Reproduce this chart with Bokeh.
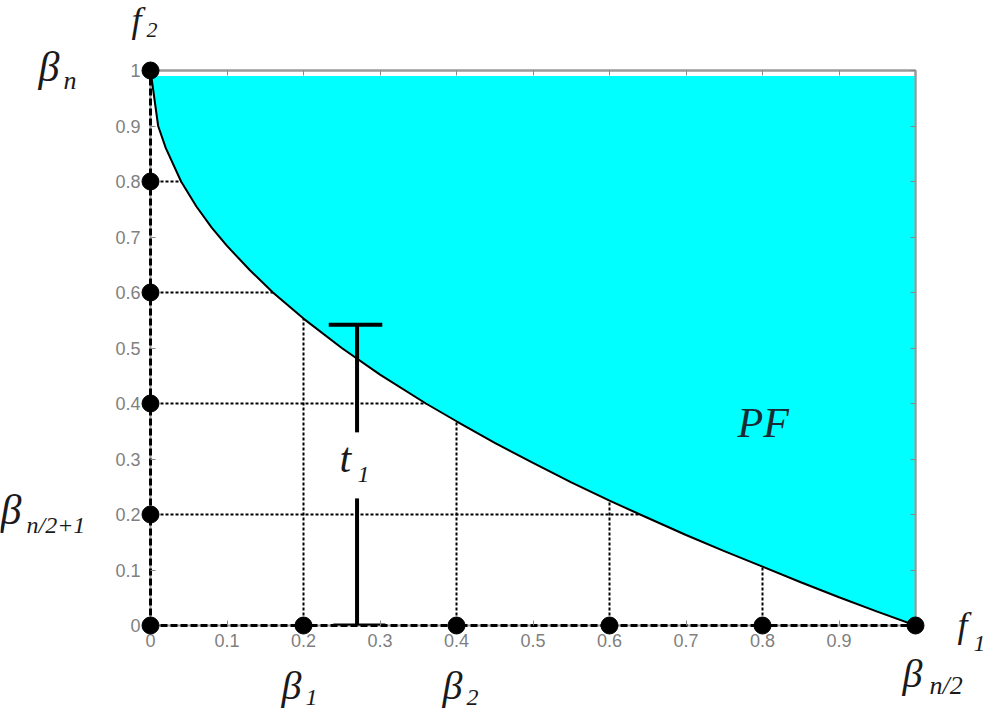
from bokeh.plotting import figure
from bokeh.models import Range1d, LinearAxis, FixedTicker, Label
from bokeh.layouts import column, row
from bokeh.embed import file_html
from bokeh.resources import INLINE

# ---- data ----
ticks = [0, 0.1, 0.2, 0.3, 0.4, 0.5, 0.6, 0.7, 0.8, 0.9, 1]
tick_labels = ["0", "0.1", "0.2", "0.3", "0.4", "0.5", "0.6", "0.7", "0.8", "0.9", "1"]

# Pareto front curve (f1, f2)
front_f1 = [0, 0.01, 0.02, 0.04, 0.06, 0.08, 0.1, 0.13, 0.16, 0.2, 0.25, 0.3, 0.36,
            0.4, 0.45, 0.5, 0.55, 0.6, 0.64, 0.7, 0.75, 0.8, 0.85, 0.9, 0.95, 1.0]
front_f2 = [1.0, 0.9, 0.86, 0.8, 0.755, 0.717, 0.684, 0.64, 0.6, 0.553, 0.5, 0.452, 0.4,
            0.368, 0.329, 0.293, 0.258, 0.225, 0.2, 0.163, 0.134, 0.106, 0.078, 0.051, 0.025, 0.0]
fill_top = 0.99

# dashed guide lines: horizontal (from f1=0 to front) and vertical (from f2=0 to front)
h_levels = [0.2, 0.4, 0.6, 0.8]
h_ends = [0.64, 0.36, 0.16, 0.04]
v_levels = [0.2, 0.4, 0.6, 0.8]
v_ends = [0.553, 0.368, 0.225, 0.106]

# black reference points
dot_x = [0, 0.2, 0.4, 0.6, 0.8, 1.0, 0, 0, 0, 0, 0]
dot_y = [0, 0, 0, 0, 0, 0, 0.2, 0.4, 0.6, 0.8, 1.0]

# t1 marker
t_x = 0.27
t_top = 0.542
t_gap_hi = 0.348
t_gap_lo = 0.229
t_bar_top = [0.233, 0.303]
t_bar_bot = [0.239, 0.307]

# ---- page geometry (px) ----
PAGE_W, PAGE_H = 987, 711
FX0, FX1, FY0, FY1 = 150, 915, 70, 625     # plot frame
LX = 112                                    # left strip right edge
RX = 928                                    # right strip left edge
TY = 50                                     # top strip bottom edge
BY = 651                                    # bottom strip top edge

p = figure(width=RX - LX, height=BY - TY, x_range=Range1d(0, 1), y_range=Range1d(0, 1),
           output_backend="svg", toolbar_location=None,
           min_border_left=FX0 - LX, min_border_right=RX - FX1,
           min_border_top=FY0 - TY, min_border_bottom=BY - FY1)
p.grid.visible = False
p.outline_line_color = "#9a9a9a"
p.outline_line_width = 2

x_over = {t: l for t, l in zip(ticks, tick_labels)}
x_over[1] = ""   # covered by the beta_{n/2} label in the reference
y_over = {t: l for t, l in zip(ticks, tick_labels)}
for ax, ov in [(p.xaxis[0], x_over), (p.yaxis[0], y_over)]:
    ax.ticker = FixedTicker(ticks=ticks)
    ax.major_label_overrides = ov
    ax.axis_line_color = "black"
    ax.axis_line_width = 3
    ax.axis_line_dash = "7 3"
    ax.major_tick_in = 5
    ax.major_tick_out = 0
    ax.major_tick_line_color = "#888888"
    ax.minor_tick_line_color = None
    ax.major_label_text_color = "#7f7f7f"
    ax.major_label_text_font = "Liberation Sans"
    ax.major_label_text_font_size = "18px"
p.xaxis.major_label_standoff = 8
p.yaxis.major_label_standoff = 10

for loc in ["above", "right"]:
    ax = LinearAxis(ticker=FixedTicker(ticks=ticks))
    ax.axis_line_color = "#9a9a9a"
    ax.axis_line_width = 2
    ax.major_tick_in = 5
    ax.major_tick_out = 0
    ax.major_tick_line_color = "#888888"
    ax.minor_tick_line_color = None
    ax.major_label_text_font_size = "0px"
    ax.major_label_text_color = None
    ax.major_label_standoff = 0
    p.add_layout(ax, loc)

# filled region
p.varea(x=front_f1, y1=front_f2, y2=fill_top, fill_color="#00FFFF")

# dashed guide lines
p.segment(x0=[0] * len(h_levels), y0=h_levels, x1=h_ends, y1=h_levels,
          line_color="black", line_width=2, line_dash="3 2")
p.segment(x0=v_levels, y0=[0] * len(v_levels), x1=v_levels, y1=v_ends,
          line_color="black", line_width=2, line_dash="3 2")

# front curve
p.line(front_f1, front_f2, line_color="black", line_width=2)

# t1 marker
p.segment(x0=[t_x, t_x, t_bar_top[0], t_bar_bot[0]],
          y0=[t_top, t_gap_lo, t_top, 0],
          x1=[t_x, t_x, t_bar_top[1], t_bar_bot[1]],
          y1=[t_gap_hi, 0, t_top, 0],
          line_color="black", line_width=4)

# points
p.scatter(dot_x, dot_y, size=17, color="black", level="overlay")


# ---- strips holding the texts around the plot (their coordinates = page px) ----
def strip(x0, x1, y0, y1):
    f = figure(width=x1 - x0, height=y1 - y0, x_range=Range1d(x0, x1),
               y_range=Range1d(y1, y0), min_border=0,
               min_border_left=0, min_border_right=0, min_border_top=0, min_border_bottom=0,
               x_axis_location=None, y_axis_location=None, title=None,
               output_backend="svg", toolbar_location=None)
    f.grid.visible = False
    f.outline_line_color = None
    return f


top = strip(LX, RX, 0, TY)
bottom = strip(LX, RX, BY, PAGE_H)
left = strip(0, LX, 0, PAGE_H)
right = strip(RX, PAGE_W, 0, PAGE_H)

SHIFT = 0.38  # rendered baseline sits about 0.38 em below the anchor


def lab(fig, text, px, base, size, color="#1a1a1a", main=False):
    ay = base - SHIFT * size
    x, y = px, ay
    if main:
        x = (px - FX0) / (FX1 - FX0)
        y = (FY1 - ay) / (FY1 - FY0)
    fig.add_layout(Label(x=x, y=y, text=text, text_font="Liberation Serif",
                         text_font_style="italic", text_font_size=f"{size}px",
                         text_color=color, text_align="left", text_baseline="alphabetic"))


lab(top, "f", 131, 33, 36)
lab(top, "2", 146, 38, 22)
lab(left, "β", 38, 82, 42)
lab(left, "n", 63, 90, 26)
lab(left, "β", 0, 525, 42)
lab(left, "n/2+1", 26, 534, 24)
lab(bottom, "β", 281, 700, 40)
lab(bottom, "1", 305, 706, 24)
lab(bottom, "β", 442, 700, 40)
lab(bottom, "2", 466, 706, 24)
lab(bottom, "β", 902, 688, 40)
lab(right, "n/2", 929, 695, 26)
lab(right, "f", 957, 638, 36)
lab(right, "1", 973, 652, 24)
lab(p, "t", 339, 473, 42, main=True)
lab(p, "1", 357, 483, 24, main=True)
lab(p, "PF", 737, 438, 42, color="#1a2a33", main=True)

center = column(row(top), row(p), row(bottom))
layout = row(left, center, right)
open("out.html", "w").write(file_html(layout, INLINE))
